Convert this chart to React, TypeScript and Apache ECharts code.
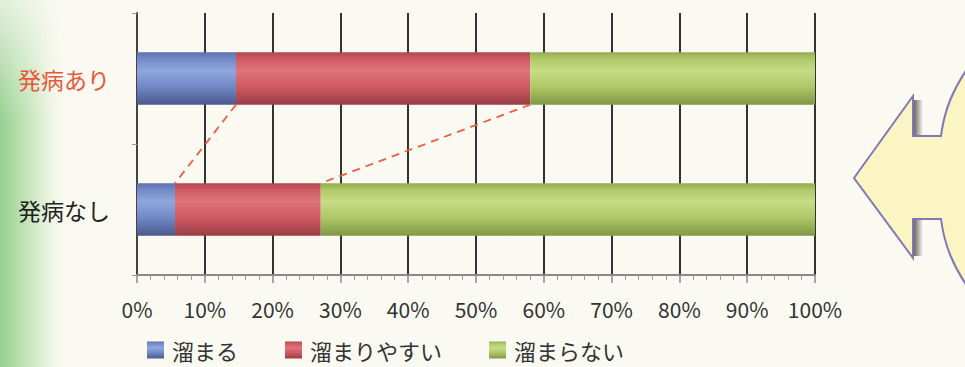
import React, { useEffect, useRef } from "react";
import * as echarts from "echarts";

const categories = ["発病なし", "発病あり"];
const labelColors = ["#222222", "#e8583a"];
const seriesNames = ["溜まる", "溜まりやすい", "溜まらない"];
// percentage per category, same order as categories
const tamaru = [5.6, 14.6];
const tamariyasui = [21.5, 43.4];
const tamaranai = [72.9, 42.0];
const xTicks = [0, 10, 20, 30, 40, 50, 60, 70, 80, 90, 100];

const palettes = [
  { top: "#5d71ad", light: "#90a6dd", base: "#7289c6", dark: "#4a5a8c" },
  { top: "#b0464e", light: "#df747b", base: "#cf5a63", dark: "#9a3d45" },
  { top: "#93ab52", light: "#c6dc86", base: "#afc867", dark: "#809846" },
];

const barGradient = (p: { top: string; light: string; base: string; dark: string }) =>
  new echarts.graphic.LinearGradient(0, 0, 0, 1, [
    { offset: 0, color: p.top },
    { offset: 0.12, color: p.base },
    { offset: 0.35, color: p.light },
    { offset: 0.65, color: p.base },
    { offset: 1, color: p.dark },
  ]);

const ARROW_D =
  "M854,178 L913,96 L913,136 L941,136 C944,112 952,88 975,58 L975,297 C952,267 944,243 941,219 L913,219 L913,258 Z";
echarts.graphic.registerShape("bigArrow", echarts.graphic.extendPath(ARROW_D, {}) as any);

export default function App() {
  const ref = useRef<HTMLDivElement>(null);

  useEffect(() => {
    if (!ref.current) return;
    const chart = echarts.init(ref.current, null, { renderer: "svg" });
    const font = "'Noto Sans CJK JP', 'Noto Sans', sans-serif";
    const values = [tamaru, tamariyasui, tamaranai];

    // boundaries between segments: [upper bar edge, lower bar edge]
    const upper = 1;
    const lower = 0;
    const links: number[][] = [];
    let cu = 0;
    let cl = 0;
    for (let i = 0; i < values.length - 1; i++) {
      cu += values[i][upper];
      cl += values[i][lower];
      links.push([cu, cl]);
    }

    const barSeries = seriesNames.map((name, i) => ({
      name,
      type: "bar",
      stack: "total",
      barWidth: "40%",
      data: values[i],
      itemStyle: { color: barGradient(palettes[i]) },
    }));

    chart.setOption({
      animation: false,
      textStyle: { fontFamily: font },
      grid: { left: 137, right: 150, top: 13, bottom: 92 },
      xAxis: {
        type: "value",
        min: 0,
        max: 100,
        interval: 10,
        axisLine: { show: true, lineStyle: { color: "#8a8a8a", width: 2 } },
        axisTick: { show: true, length: 8, lineStyle: { color: "#8a8a8a", width: 1.5 } },
        minorTick: { show: true, splitNumber: 5, length: 5, lineStyle: { color: "#9a9a9a", width: 1 } },
        splitLine: { show: true, lineStyle: { color: "#333333", width: 2 } },
        axisLabel: {
          formatter: (v: number) => (xTicks.includes(v) ? v + "%" : ""),
          color: "#333333",
          fontSize: 21,
          margin: 23,
          fontFamily: font,
        },
      },
      yAxis: {
        type: "category",
        data: categories,
        axisLine: { show: true, lineStyle: { color: "#444444", width: 2 } },
        axisTick: { show: true, length: 5, lineStyle: { color: "#999999", width: 1 } },
        axisLabel: {
          fontSize: 23,
          margin: 27,
          fontFamily: font,
          color: (_v: string, idx: number) => labelColors[idx],
        },
      },
      legend: {
        data: seriesNames,
        left: 147,
        top: 339,
        padding: 0,
        itemWidth: 17,
        itemHeight: 17,
        itemGap: 47,
        icon: "rect",
        textStyle: {
          fontSize: 22,
          lineHeight: 22,
          color: "#333333",
          fontFamily: font,
          padding: [0, 0, 0, 3],
        },
      },
      graphic: [
        {
          type: "rect",
          z: -10,
          silent: true,
          shape: { x: 0, y: 0, width: 70, height: 367 },
          style: {
            fill: new echarts.graphic.LinearGradient(0, 0, 1, 0, [
              { offset: 0, color: "#98cf92" },
              { offset: 0.3, color: "#b9e0b0" },
              { offset: 0.65, color: "#e4f1da" },
              { offset: 1, color: "rgba(250,250,242,0)" },
            ]),
          },
        },
        {
          type: "rect",
          z: -9,
          silent: true,
          shape: { x: 0, y: 0, width: 70, height: 120 },
          style: {
            fill: new echarts.graphic.LinearGradient(0, 0, 0, 1, [
              { offset: 0, color: "rgba(250,250,242,0.75)" },
              { offset: 1, color: "rgba(250,250,242,0)" },
            ]),
          },
        },
        {
          type: "bigArrow",
          silent: true,
          style: { fill: "#fbf5c4", stroke: "#8676b6", lineWidth: 2 },
        },
        {
          type: "rect",
          silent: true,
          shape: { x: 914, y: 100, width: 9, height: 35 },
          style: {
            fill: new echarts.graphic.LinearGradient(0, 0, 1, 0, [
              { offset: 0, color: "rgba(40,40,40,0.7)" },
              { offset: 1, color: "rgba(40,40,40,0)" },
            ]),
          },
        },
        {
          type: "rect",
          silent: true,
          shape: { x: 914, y: 220, width: 9, height: 36 },
          style: {
            fill: new echarts.graphic.LinearGradient(0, 0, 1, 0, [
              { offset: 0, color: "rgba(40,40,40,0.7)" },
              { offset: 1, color: "rgba(40,40,40,0)" },
            ]),
          },
        },
      ],
      series: [
        ...barSeries,
        {
          type: "custom",
          name: "links",
          silent: true,
          z: 5,
          data: links,
          renderItem: (_params: any, api: any) => {
            const half = (api.size([0, 1])[1] * 0.4) / 2;
            const a = api.coord([api.value(0), upper]);
            const b = api.coord([api.value(1), lower]);
            return {
              type: "line",
              shape: { x1: a[0], y1: a[1] + half, x2: b[0], y2: b[1] - half },
              style: { stroke: "#ee5f3e", lineWidth: 1.8, lineDash: [8, 6] },
            };
          },
        },
      ],
    });

    return () => chart.dispose();
  }, []);

  return (
    <div
      ref={ref}
      style={{ position: "fixed", left: 0, top: 0, width: 965, height: 367, background: "#fafaf2" }}
    />
  );
}
